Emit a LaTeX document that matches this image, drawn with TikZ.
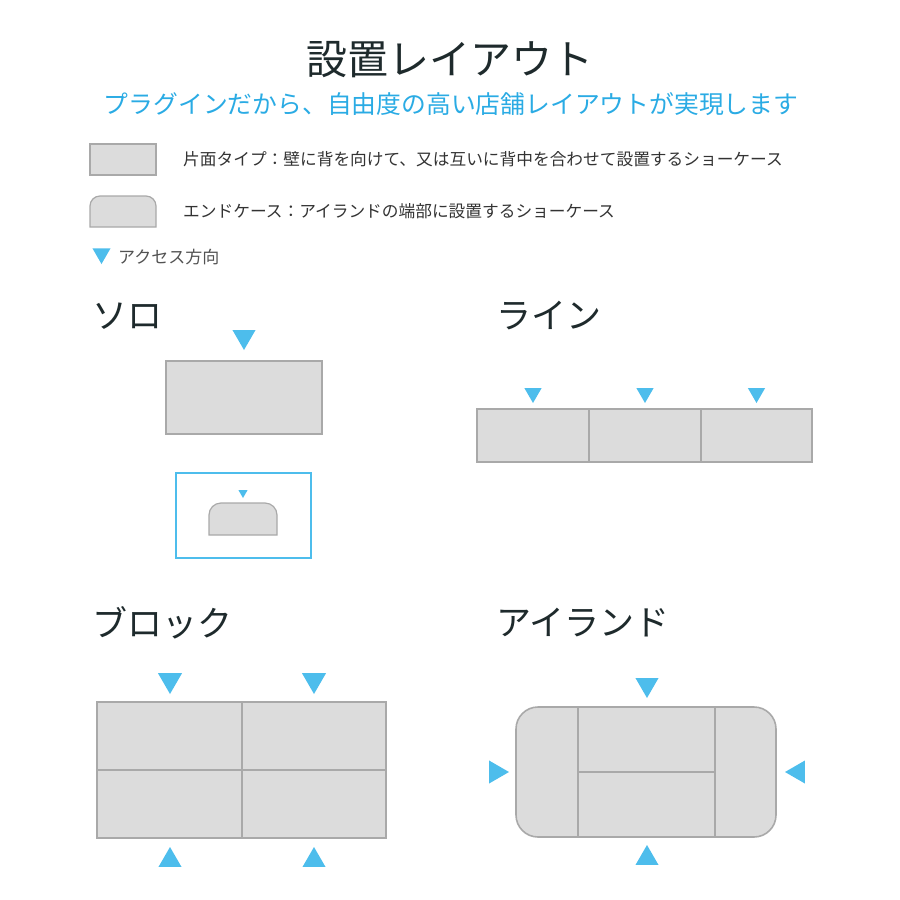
\documentclass[tikz,border=0pt]{standalone}
\usepackage{fontspec}
\setmainfont{Noto Sans CJK JP}
\usetikzlibrary{positioning,shapes.geometric}
\definecolor{accblue}{HTML}{4DBDEC}
\definecolor{subblue}{HTML}{2AABE4}
\definecolor{casefill}{HTML}{DCDCDC}
\definecolor{caseedge}{HTML}{A9A9A9}
\definecolor{titlecol}{HTML}{1E2A2C}
\definecolor{textcol}{HTML}{333333}
\newcommand{\fsz}[1]{\fontsize{#1}{#1}\selectfont}

\begin{document}
\begin{tikzpicture}[
        x=1pt, y=-1pt,
        case/.style={draw=caseedge, fill=casefill, line width=1.6pt, inner sep=0pt, outer sep=0pt},
        acc/.style={regular polygon, regular polygon sides=3, fill=accblue, inner sep=0pt, outer sep=0pt},
        accdown/.style={acc, shape border rotate=180},
        accup/.style={acc, shape border rotate=0},
        accright/.style={acc, shape border rotate=-90},
        accleft/.style={acc, shape border rotate=90},
        head/.style={text=titlecol, font=\fsz{35}, anchor=west, inner sep=0pt},
        legtext/.style={text=textcol, font=\fsz{16.7}, anchor=west, inner sep=0pt}
    ]
      \useasboundingbox (0,0) rectangle (900,900);

      % Title
      \node[text=titlecol, font=\fsz{41}, inner sep=0pt] (title) at (450,60) {設置レイアウト};
      \node[text=subblue, font=\fsz{24.8}, inner sep=0pt] (subtitle) at (451,104) {プラグインだから、自由度の高い店舗レイアウトが実現します};

      % Legend
      \node[case, line width=1.2pt, minimum width=66, minimum height=31] (legA) at (123,159.5) {};
      \node[legtext] (legAtext) at (183,159) {片面タイプ：壁に背を向けて、又は互いに背中を合わせて設置するショーケース};
      \draw[case, line width=1.2pt] (90,227) -- (90,206) arc[start angle=180, end angle=270, radius=10]
        -- (146,196) arc[start angle=270, end angle=360, radius=10] -- (156,227) -- cycle;
      \node[legtext] (legBtext) at (183,211) {エンドケース：アイランドの端部に設置するショーケース};
      \node[accdown, minimum size=21] (legacc) at (101.5,253.5) {};
      \node[text=textcol!85, font=\fsz{17}, anchor=west, inner sep=0pt] (legacctext) at (118,257) {アクセス方向};

      % Solo
      \node[head] (soloT) at (92,316) {ソロ};
      \node[accdown, minimum size=26.6] (soloA) at (244,336.7) {};
      \node[case, minimum width=156, minimum height=73] (solo) at (244,397.5) {};
      \node[draw=accblue, line width=1.5pt, minimum width=135, minimum height=85, inner sep=0pt] (soloframe) at (243.5,515.5) {};
      \node[accdown, minimum size=10.6] (soloendA) at (243,492.7) {};
      \draw[case, line width=1.2pt] (209,535) -- (209,515) arc[start angle=180, end angle=270, radius=12]
        -- (265,503) arc[start angle=270, end angle=360, radius=12] -- (277,535) -- cycle;

      % Line
      \node[head] (lineT) at (496,316) {ライン};
      \node[case, minimum width=112, minimum height=53] (l1) at (533,435.5) {};
      \node[case, minimum width=112, minimum height=53, right=0pt of l1] (l2) {};
      \node[case, minimum width=111, minimum height=53, right=0pt of l2] (l3) {};
      \foreach \n in {l1,l2,l3}
        \node[accdown, minimum size=20] at ([yshift=42.5]\n.center) {};

      % Block
      \node[head] (blockT) at (92,623) {ブロック};
      \node[case, minimum width=145, minimum height=68] (b1) at (169.5,736) {};
      \node[case, minimum width=144, minimum height=68, right=0pt of b1] (b2) {};
      \node[case, minimum width=145, minimum height=68, below=0pt of b1] (b3) {};
      \node[case, minimum width=144, minimum height=68, right=0pt of b3] (b4) {};
      \node[accdown, minimum size=28] (bA1) at (170,680) {};
      \node[accdown, minimum size=28] (bA2) at (314,680) {};
      \node[accup, minimum size=26.6] (bA3) at (170,860.3) {};
      \node[accup, minimum size=26.6] (bA4) at (314,860.3) {};

      % Island
      \node[head] (islandT) at (496,623) {アイランド};
      \node[case, rounded corners=22pt, minimum width=260, minimum height=130] (isl) at (646,772) {};
      \node[case, minimum width=137, minimum height=65] (c1) at (646.5,739.5) {};
      \node[case, minimum width=137, minimum height=65, below=0pt of c1] (c2) {};
      \node[accdown, minimum size=26.6] (iA1) at (647,684.7) {};
      \node[accup, minimum size=26.6] (iA2) at (647,858.3) {};
      \node[accright, minimum size=26.6] (iA3) at (495.7,772) {};
      \node[accleft, minimum size=26.6] (iA4) at (798.3,772) {};
    \end{tikzpicture}
\end{document}
